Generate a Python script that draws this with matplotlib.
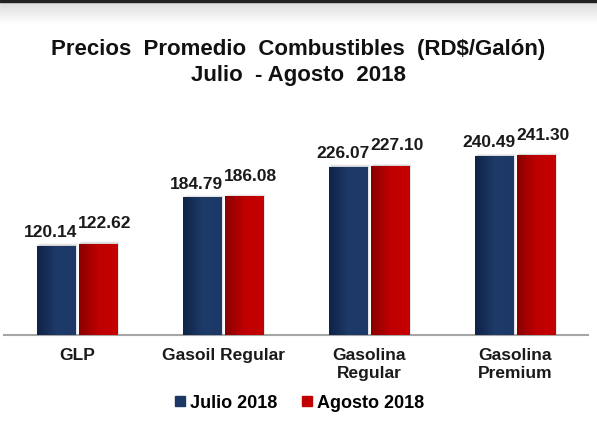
import numpy as np
import matplotlib
matplotlib.use("Agg")
import matplotlib.pyplot as plt
from matplotlib.colors import LinearSegmentedColormap
from matplotlib.lines import Line2D

plt.rcParams['font.family'] = ['Liberation Sans', 'DejaVu Sans']

categories = ["GLP", "Gasoil Regular", "Gasolina\nRegular", "Gasolina\nPremium"]
julio = [120.14, 184.79, 226.07, 240.49]
agosto = [122.62, 186.08, 227.10, 241.30]
series_names = ["Julio 2018", "Agosto 2018"]

navy = "#1c3763"
red = "#c00000"
navy_cm = LinearSegmentedColormap.from_list("navy", ["#0f2346", "#1d3a68", "#1c3866"])
red_cm = LinearSegmentedColormap.from_list("red", ["#8a0000", "#bf0000", "#c60000"])

fig = plt.figure(figsize=(5.97, 4.23), dpi=100)
fig.patch.set_facecolor("white")

# dark strip + grey fade at the very top
top = fig.add_axes([0, 1 - 24 / 423, 1, 24 / 423])
grad = np.linspace(0, 1, 50).reshape(-1, 1)
fade = LinearSegmentedColormap.from_list("fade", ["#d8d8d8", "#ffffff"])
top.imshow(grad, cmap=fade, aspect="auto", extent=[0, 1, 0, 1])
top.axhspan(1 - 2.5 / 24, 1, color="#222222")
top.set_xlim(0, 1)
top.set_ylim(0, 1)
top.axis("off")

ax = fig.add_axes([4 / 597, 1 - 335 / 423, 584 / 597, 201 / 423])

x = np.arange(len(categories))
w = 0.265
off = 0.143
gradient = np.linspace(0, 1, 64).reshape(1, -1)

for vals, dx, cm, dy_lbl, dx_lbl in [(julio, -off, navy_cm, 4, -4),
                                      (agosto, off, red_cm, 9, 5)]:
    bars = ax.bar(x + dx, vals, w, color="none", zorder=3)
    for b, v in zip(bars, vals):
        x0 = b.get_x()
        # soft shadow
        for k in range(1, 6):
            ax.add_patch(plt.Rectangle((x0 + 0.003 * k, 0), w, v + 0.6 * k,
                                       color="black", alpha=0.035, lw=0, zorder=2))
        im = ax.imshow(gradient, cmap=cm, aspect="auto",
                       extent=[x0, x0 + w, 0, v], zorder=3)
        im.set_clip_path(b)
        ax.annotate(f"{v:.2f}", (b.get_x() + w / 2, v),
                    xytext=(dx_lbl, dy_lbl), textcoords="offset points",
                    ha="center", va="bottom", fontsize=12.5,
                    fontweight="bold", color="#1a1a1a", zorder=5)

ax.set_xlim(-0.5, 3.5)
ax.set_ylim(0, 270)

for s in ["top", "right", "left"]:
    ax.spines[s].set_visible(False)
ax.spines["bottom"].set_color("#a6a6a6")
ax.spines["bottom"].set_linewidth(1.5)
ax.set_yticks([])
ax.set_xticks(x)
ax.set_xticklabels(categories, fontsize=12.5, fontweight="bold",
                   color="#1a1a1a", linespacing=1.25)
ax.tick_params(axis="x", length=0, pad=9)

fig.text(0.5, 1 - 50 / 423, "Precios  Promedio  Combustibles  (RD$/Galón)",
         ha="center", va="center", fontsize=16, fontweight="bold", color="#111111")
fig.text(0.5, 1 - 75 / 423, "Julio  - Agosto  2018",
         ha="center", va="center", fontsize=16, fontweight="bold", color="#111111")

handles = [Line2D([], [], marker="s", ls="none", color=navy, markersize=6.5),
           Line2D([], [], marker="s", ls="none", color=red, markersize=6.5)]
fig.legend(handles, series_names, loc="center", bbox_to_anchor=(0.5, 1 - 403 / 423),
           ncol=2, frameon=False, handlelength=0.7, handletextpad=0.2,
           columnspacing=1.3, prop={"weight": "bold", "size": 13})

fig.savefig("out.png", dpi=100, facecolor="white")
